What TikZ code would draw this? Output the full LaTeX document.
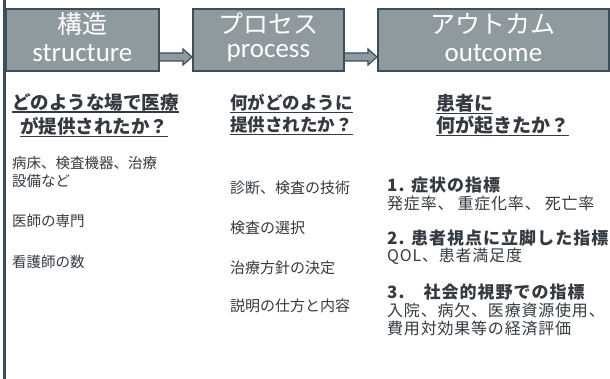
\documentclass[tikz,border=0pt]{standalone}
\usepackage{fontspec}
\setmainfont{Noto Sans CJK JP}
\newfontfamily\boxlatin{Carlito}
\usetikzlibrary{calc}
\definecolor{boxfill}{HTML}{8F9A9F}
\definecolor{boxline}{HTML}{3C4E5A}
\definecolor{ink}{HTML}{343A40}
\tikzset{
  stagebox/.style={draw=boxline, line width=1.8pt, fill=boxfill, anchor=north west, minimum height=62pt, inner sep=0pt},
  jpbig/.style={text=white, font=\fontsize{25}{25}\selectfont, inner sep=0pt},
  enbig/.style={text=white, font=\boxlatin\fontsize{27}{27}\selectfont, inner sep=0pt},
  head/.style={anchor=west, inner sep=0pt, text=ink, font=\bfseries\fontsize{17.5}{18}\selectfont},
  item/.style={anchor=west, inner sep=0pt, text=ink, font=\fontsize{15}{15}\selectfont},
  itemc/.style={anchor=west, inner sep=0pt, text=ink, font=\addfontfeature{LetterSpace=5}\fontsize{16}{16}\selectfont},
  itemb/.style={itemc, font=\bfseries\addfontfeature{LetterSpace=6}\fontsize{17}{17}\selectfont},
  uline/.style={draw=ink, line width=1.1pt},
  blockarrow/.style={draw=boxline, line width=1.2pt, fill=boxfill, line join=miter},
  sideline/.style={draw=boxline, line width=3pt},
}
\begin{document}
\begin{tikzpicture}[x=1pt, y=-1pt]
\useasboundingbox[fill=white] (0,0) rectangle (610,379);
% left vertical rule
\coordinate (vtop) at (4.5,0);
\coordinate (vbot) at (4.5,379);
\draw[sideline] (vtop) -- (vbot);

% arrows (drawn first, boxes over them)
\coordinate (a1s) at (158,57);
\coordinate (a1e) at (192,57);
\coordinate (a2s) at (343,57);
\coordinate (a2e) at (377,57);
\draw[blockarrow] ($(a1s)+(0,-4)$) -- ($(a1e)+(-9,-4)$) -- ($(a1e)+(-9,-8)$) -- (a1e) -- ($(a1e)+(-9,8)$) -- ($(a1e)+(-9,4)$) -- ($(a1s)+(0,4)$) -- cycle;
\draw[blockarrow] ($(a2s)+(0,-4)$) -- ($(a2e)+(-9,-4)$) -- ($(a2e)+(-9,-8)$) -- (a2e) -- ($(a2e)+(-9,8)$) -- ($(a2e)+(-9,4)$) -- ($(a2s)+(0,4)$) -- cycle;

% stage boxes
\node[stagebox, minimum width=153pt] (b1) at (5,8) {};
\node[stagebox, minimum width=151pt] (b2) at (192,8) {};
\node[stagebox, minimum width=231pt] (b3) at (377,8) {};

\node[jpbig] (b1j) at ($(b1.center)+(0,-16)$) {構造};
\node[enbig] (b1e) at ($(b1.center)+(0,13)$) {structure};
\node[jpbig] (b2j) at ($(b2.center)+(0,-16)$) {プロセス};
\node[enbig] (b2e) at ($(b2.center)+(0,13)$) {process};
\node[jpbig] (b3j) at ($(b3.center)+(0,-16)$) {アウトカム};
\node[enbig] (b3e) at ($(b3.center)+(0,13)$) {outcome};

% column 1
\node[head, font=\bfseries\fontsize{18.5}{19}\selectfont] (h11) at (12,102) {どのような場で医療};
\node[head, font=\bfseries\fontsize{18.5}{19}\selectfont] (h12) at (20,126) {が提供されたか？};
\draw[uline] ($(h11.south west)+(0,1)$) -- ($(h11.south east)+(0,1)$);
\draw[uline] ($(h12.south west)+(0,1)$) -- ($(h12.south east)+(0,1)$);
\node[item, font=\fontsize{14.5}{15}\selectfont] (c11) at (12,163) {病床、検査機器、治療};
\node[item, font=\fontsize{14.5}{15}\selectfont] (c12) at (12,181) {設備など};
\node[item, font=\fontsize{14.5}{15}\selectfont] (c13) at (12,221) {医師の専門};
\node[item, font=\fontsize{14.5}{15}\selectfont] (c14) at (12,262) {看護師の数};

% column 2
\node[head] (h21) at (230,103) {何がどのように};
\node[head] (h22) at (230,125) {提供されたか？};
\draw[uline] ($(h21.south west)+(0,1)$) -- ($(h21.south east)+(0,1)$);
\draw[uline] ($(h22.south west)+(0,1)$) -- ($(h22.south east)+(0,1)$);
\node[item] (c21) at (230,188) {診断、検査の技術};
\node[item] (c22) at (230,228) {検査の選択};
\node[item] (c23) at (230,268) {治療方針の決定};
\node[item] (c24) at (230,306) {説明の仕方と内容};

% column 3
\node[head, font=\bfseries\fontsize{19}{19}\selectfont] (h31) at (436,103) {患者に};
\node[head, font=\bfseries\fontsize{19}{19}\selectfont] (h32) at (436,125) {何が起きたか？};
\draw[uline] ($(h31.south west)+(0,1)$) -- ($(h31.south east)+(0,1)$);
\draw[uline] ($(h32.south west)+(0,1)$) -- ($(h32.south east)+(0,1)$);
\node[itemb] (c31) at (387,185) {1. 症状の指標};
\node[itemc] (c32) at (387,203) {発症率、\hspace{4pt}重症化率、\hspace{4pt}死亡率};
\node[itemb] (c33) at (387,238) {2. 患者視点に立脚した指標};
\node[itemc] (c34) at (387,256) {QOL、患者満足度};
\node[itemb] (c35) at (387,292) {3.　社会的視野での指標};
\node[itemc] (c36) at (387,310) {入院、病欠、医療資源使用、};
\node[itemc] (c37) at (387,328) {費用対効果等の経済評価};
\end{tikzpicture}
\end{document}
